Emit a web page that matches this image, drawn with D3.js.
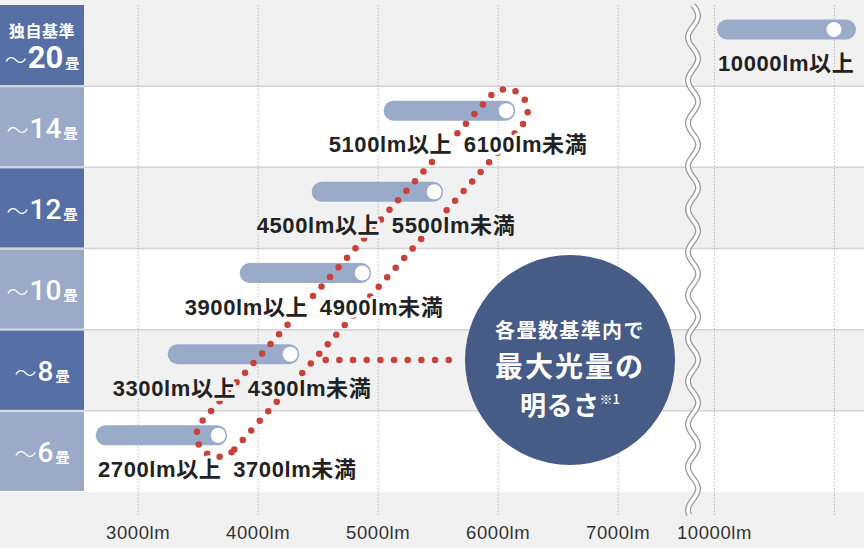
<!DOCTYPE html>
<html>
<head>
<meta charset="utf-8">
<script src="https://cdn.jsdelivr.net/npm/d3@7.9.0/dist/d3.min.js"></script>
<style>
  html, body { margin: 0; padding: 0; background: #f1f1f1; }
  svg { display: block; }
  text { font-family: "Liberation Sans", "Noto Sans CJK JP", sans-serif; }
</style>
</head>
<body>
<svg id="chart" width="864" height="548"></svg>
<script>
// room sizes (畳) and the brightness band for each
const roomSizes = ["20", "14", "12", "10", "8", "6"];
const roomNotes = ["独自基準", "", "", "", "", ""];
const lowLm = [10000, 5100, 4500, 3900, 3300, 2700];
const highLm = [null, 6100, 5500, 4900, 4300, 3700];

const tickValues = [3000, 4000, 5000, 6000, 7000, 10000, 11000];
const tickLabels = ["3000lm", "4000lm", "5000lm", "6000lm", "7000lm", "10000lm", ""];

const bubbleLines = ["各畳数基準内で", "最大光量の", "明るさ"];
const bubbleNote = "※1";

const width = 864, height = 548;
const labelW = 84;
const colors = {
  page: "#f1f1f1",
  rowAlt: "#ffffff",
  sep: "#d4d4d4",
  boxDark: "#566fa4",
  boxLight: "#9baac8",
  bar: "#9aabc9",
  bubble: "#465b86",
  dots: "#c8413a",
  text: "#222222",
  axisText: "#333333",
  grid: "#b2b2b2",
};

const svg = d3.select("#chart");

// broken axis: 3000–7000 and 10000–11000 share one slope
const x = d3.scaleLinear()
  .domain([3000, 7000, 10000, 11000])
  .range([137.7, 617.7, 714, 834]);
const openMax = 11000;
const breakX = 693;

const y = d3.scaleBand()
  .domain(d3.range(roomSizes.length))
  .range([5, 492]);
const bw = y.bandwidth();

const rowBg = (i) => (i % 2 === 0 ? colors.page : colors.rowAlt);

// page + row backgrounds
svg.append("rect").attr("width", width).attr("height", height).attr("fill", colors.page);

svg.append("g")
  .selectAll("rect")
  .data(roomSizes)
  .join("rect")
  .attr("x", 0)
  .attr("y", (d, i) => y(i))
  .attr("width", width)
  .attr("height", bw)
  .attr("fill", (d, i) => rowBg(i));

svg.append("g")
  .selectAll("line")
  .data(d3.range(1, roomSizes.length))
  .join("line")
  .attr("x1", 0)
  .attr("x2", width)
  .attr("y1", (i) => y(i))
  .attr("y2", (i) => y(i))
  .attr("stroke", colors.sep)
  .attr("stroke-width", 1.5);

// axis with dotted gridlines
const axisY = 515;
const axis = svg.append("g")
  .attr("transform", `translate(0,${axisY})`)
  .call(
    d3.axisBottom(x)
      .tickValues(tickValues)
      .tickSize(-(axisY - 5))
      .tickPadding(11)
      .tickFormat((d, i) => tickLabels[i])
  );
axis.select(".domain").remove();
axis.selectAll(".tick line")
  .attr("stroke", colors.grid)
  .attr("stroke-dasharray", "1.2 2");
axis.selectAll(".tick text")
  .attr("fill", colors.axisText)
  .style("font-size", "18.5px")
  .style("letter-spacing", "0.6px");

// axis break (wavy band)
const wavePts = d3.range(5, axisY + 0.5, 1).map((v) => [breakX + 5 * Math.sin(((v - 5) / 43) * 2 * Math.PI), v]);
const waveLine = d3.line();
svg.append("path")
  .attr("d", waveLine(wavePts))
  .attr("fill", "none")
  .attr("stroke", "#9a9a9a")
  .attr("stroke-width", 6);
svg.append("path")
  .attr("d", waveLine(wavePts))
  .attr("fill", "none")
  .attr("stroke", "#ffffff")
  .attr("stroke-width", 3.4);

// left label boxes
const boxes = svg.append("g");
boxes.selectAll("rect")
  .data(roomSizes)
  .join("rect")
  .attr("x", 0)
  .attr("y", (d, i) => y(i) + (i ? 1 : 0))
  .attr("width", labelW)
  .attr("height", (d, i) => bw - 1 - (i ? 1 : 0))
  .attr("fill", (d, i) => (i % 2 === 0 ? colors.boxDark : colors.boxLight));

roomSizes.forEach((size, i) => {
  const top = y(i);
  const note = roomNotes[i];
  const base = note ? top + 63 : top + bw / 2 + 11;
  if (note) {
    boxes.append("text")
      .attr("x", labelW / 2)
      .attr("y", top + 32)
      .attr("text-anchor", "middle")
      .attr("fill", "#fff")
      .style("font-family", "'Noto Sans CJK JP', sans-serif")
      .style("font-weight", 700)
      .style("font-size", "16px")
      .style("letter-spacing", "0.6px")
      .text(note);
  }
  const t = boxes.append("text")
    .attr("x", labelW / 2)
    .attr("y", base)
    .attr("text-anchor", "middle")
    .attr("fill", "#fff");
  t.append("tspan")
    .style("font-family", "'Noto Sans CJK JP', sans-serif")
    .style("font-weight", 300)
    .style("font-size", "22px")
    .text("〜");
  t.append("tspan")
    .style("font-family", "Roboto, 'Liberation Sans', sans-serif")
    .style("font-weight", note ? 700 : 500)
    .style("font-size", note ? "31px" : "28px")
    .attr("dx", 1)
    .text(size);
  t.append("tspan")
    .style("font-family", "'Noto Sans CJK JP', sans-serif")
    .style("font-weight", 700)
    .style("font-size", "14px")
    .attr("dx", 2)
    .text("畳");
});

// range bars
const barH = 20;
const barCy = (i) => y(i) + 24.5;
const barX0 = (i) => (highLm[i] == null ? x(lowLm[i]) + 3 : x(lowLm[i]) - 6);
const barX1 = (i) => (highLm[i] == null ? x(openMax) + 22 : x(highLm[i]) + 5.5);
const markX = (i) => (highLm[i] == null ? x(openMax) : x(highLm[i]) - 3.5);

const bars = svg.append("g");
bars.selectAll("rect")
  .data(roomSizes)
  .join("rect")
  .attr("x", (d, i) => barX0(i))
  .attr("y", (d, i) => barCy(i) - barH / 2)
  .attr("width", (d, i) => barX1(i) - barX0(i))
  .attr("height", barH)
  .attr("rx", barH / 2)
  .attr("fill", colors.bar);
bars.selectAll("circle")
  .data(roomSizes)
  .join("circle")
  .attr("cx", (d, i) => markX(i))
  .attr("cy", (d, i) => barCy(i))
  .attr("r", 7.5)
  .attr("fill", "#fff");

// dotted loop around the upper ends of the 6畳–14畳 bands
const first = roomSizes.length - 1, last = 1;
const p1 = [markX(first), barCy(first)];
const p2 = [markX(last), barCy(last)];
const th = Math.atan2(p2[1] - p1[1], p2[0] - p1[0]);
const r = 21.5;
const off = (p, a) => [p[0] + r * Math.cos(a), p[1] + r * Math.sin(a)];
const loop = d3.path();
const s0 = off(p1, th + Math.PI / 2);
const s1 = off(p2, th + Math.PI / 2);
const s2 = off(p1, th - Math.PI / 2);
loop.moveTo(s0[0], s0[1]);
loop.lineTo(s1[0], s1[1]);
loop.arc(p2[0], p2[1], r, th + Math.PI / 2, th - Math.PI / 2, true);
loop.lineTo(s2[0], s2[1]);
loop.arc(p1[0], p1[1], r, th - Math.PI / 2, th - 1.5 * Math.PI, true);
loop.closePath();

const dotStyle = (sel, gap) =>
  sel.attr("fill", "none")
    .attr("stroke", colors.dots)
    .attr("stroke-width", 6.5)
    .attr("stroke-linecap", "round")
    .attr("stroke-dasharray", `0 ${gap}`);

svg.append("path").attr("d", loop.toString()).call(dotStyle, 12.8);

// bubble annotation
const bubble = { cx: 570, cy: 360, r: 105 };
const leader = d3.path();
leader.moveTo(x(highLm[4]) + 32, bubble.cy);
leader.lineTo(bubble.cx - bubble.r - 16, bubble.cy);
svg.append("path").attr("d", leader.toString()).call(dotStyle, 13.67);

// range labels with background halo
const labels = svg.append("g");
roomSizes.forEach((size, i) => {
  const lo = lowLm[i], hi = highLm[i];
  const tx = hi == null ? x(lo) + 4 : Math.max(x(lo) - 61, 98);
  const t = labels.append("text")
    .attr("x", tx)
    .attr("y", y(i) + 66)
    .attr("fill", colors.text)
    .attr("stroke", rowBg(i))
    .attr("stroke-width", 6)
    .attr("stroke-linejoin", "round")
    .attr("paint-order", "stroke")
    .style("font-weight", 700)
    .style("font-size", "22px")
    .style("letter-spacing", "0.6px");
  t.append("tspan").text(`${lo}lm以上`);
  if (hi != null) t.append("tspan").attr("dx", 5).text(` ${hi}lm未満`);
});

const bg = svg.append("g");
bg.append("circle")
  .attr("cx", bubble.cx)
  .attr("cy", bubble.cy)
  .attr("r", bubble.r)
  .attr("fill", colors.bubble);

const btext = (s, dy, size, ls) =>
  bg.append("text")
    .attr("x", bubble.cx)
    .attr("y", bubble.cy + dy)
    .attr("text-anchor", "middle")
    .attr("fill", "#fff")
    .style("font-family", "'Noto Sans CJK JP', sans-serif")
    .style("font-weight", 700)
    .style("font-size", size + "px")
    .style("letter-spacing", ls + "px")
    .text(s);

btext(bubbleLines[0], -22, 20, 1.4);
btext(bubbleLines[1], 17, 28, 2);
const l3 = btext(bubbleLines[2], 55, 26, 0.5);
l3.append("tspan")
  .attr("dy", -11)
  .style("font-size", "13px")
  .style("font-weight", 500)
  .style("letter-spacing", "0px")
  .text(bubbleNote);
</script>
</body>
</html>
